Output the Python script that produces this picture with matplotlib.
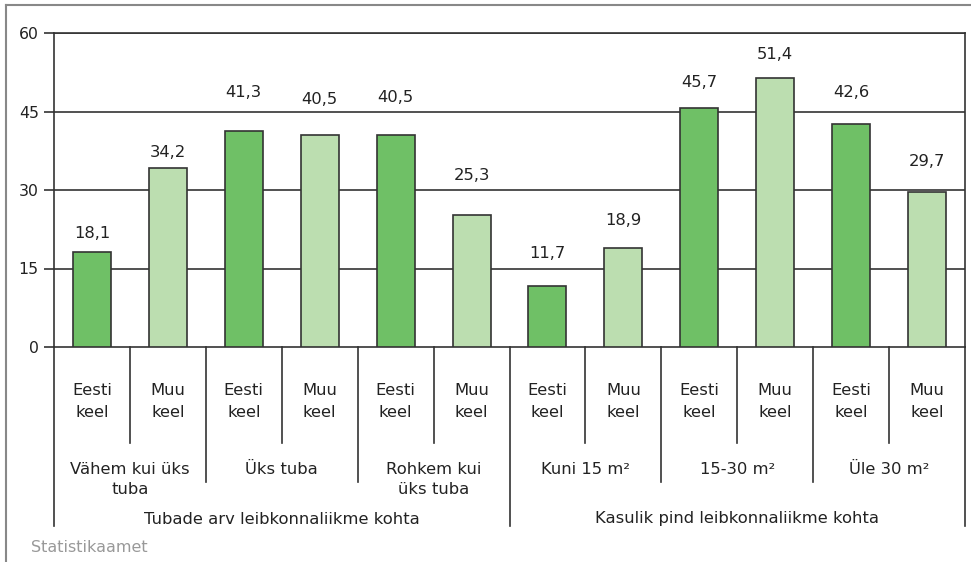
import matplotlib
matplotlib.use("Agg")
import matplotlib.pyplot as plt

sub_labels = ["Eesti\nkeel", "Muu\nkeel"] * 6
group_labels = ["Vähem kui üks\ntuba", "Üks tuba", "Rohkem kui\nüks tuba",
                "Kuni 15 m²", "15-30 m²", "Üle 30 m²"]
top_labels = ["Tubade arv leibkonnaliikme kohta", "Kasulik pind leibkonnaliikme kohta"]
values = [18.1, 34.2, 41.3, 40.5, 40.5, 25.3, 11.7, 18.9, 45.7, 51.4, 42.6, 29.7]
yticks = [0, 15, 30, 45, 60]
source = "Statistikaamet"

# gap (in pixels) between the top of each bar and the centre of its value label
label_gap_px = [19, 16, 38, 36, 38, 39, 32, 28, 25, 24, 32, 30]

dark = "#6fc066"
light = "#bcdeb0"
edge = "#333333"
txt = "#222222"
FS = 11.8

plt.rcParams['font.family'] = ['DejaVu Sans']
fig = plt.figure(figsize=(9.71, 5.62), dpi=100)
ax = fig.add_axes([54/971, 1-347/562, (965-54)/971, (347-33)/562])

x = list(range(len(values)))
colors = [dark if i % 2 == 0 else light for i in x]
ax.bar(x, values, width=0.5, color=colors, edgecolor=edge, linewidth=1.2, zorder=3)
for xi, v, g in zip(x, values, label_gap_px):
    ax.annotate(f"{v:.1f}".replace(".", ","), (xi, v), xytext=(0, g * 0.72),
                textcoords="offset points", ha="center", va="center",
                fontsize=FS, color=txt)

ax.set_xlim(-0.5, len(values) - 0.5)
ax.set_ylim(0, 60)
ax.set_yticks(yticks)
ax.set_yticklabels([str(t) for t in yticks], fontsize=11.3, color=txt)
ax.tick_params(axis='y', length=7, width=1.2, color=edge, pad=4)
ax.set_xticks([])
for y in yticks[1:]:
    ax.axhline(y, color=edge, linewidth=1.2, zorder=1)
for s in ["top", "right", "left", "bottom"]:
    ax.spines[s].set_color(edge)
    ax.spines[s].set_linewidth(1.2)

tr = ax.get_xaxis_transform()
H = 314.0
def ay(py):
    return (347 - py) / H

# dividers below axis
for i in range(len(values) + 1):
    xb = i - 0.5
    if i % 12 == 0 or i == 6:
        yend = ay(526)
    elif i % 2 == 0:
        yend = ay(482)
    else:
        yend = ay(443)
    ax.plot([xb, xb], [0, yend], transform=tr, color=edge, linewidth=1.2,
            clip_on=False, zorder=4)

for xi, lab in zip(x, sub_labels):
    ax.text(xi, ay(401.5), lab, transform=tr, ha="center", va="center",
            fontsize=FS, color=txt, linespacing=1.62)
for g, lab in enumerate(group_labels):
    ax.text(2 * g + 0.5, ay(462), lab, transform=tr, ha="center", va="top",
            fontsize=FS, color=txt, linespacing=1.38)
for t, lab in enumerate(top_labels):
    ax.text(6 * t + 2.5, ay(519), lab, transform=tr, ha="center", va="center",
            fontsize=FS, color=txt)

fig.text(31/971, 1-547/562, source, ha="left", va="center", fontsize=11.5, color="#999999")

# outer frame lines
fig.add_artist(plt.Line2D([6/971, 6/971], [0, 1-5/562], transform=fig.transFigure,
                          color="#888888", linewidth=1.5))
fig.add_artist(plt.Line2D([6/971, 1], [1-5/562, 1-5/562], transform=fig.transFigure,
                          color="#888888", linewidth=1.5))

fig.savefig("out.png", dpi=100)
